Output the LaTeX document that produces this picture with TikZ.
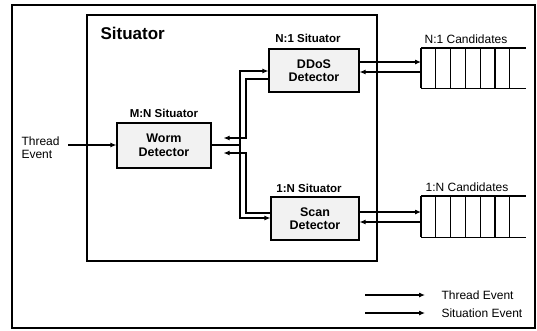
\documentclass[tikz,border=0pt]{standalone}
\usepackage{fontspec}
\setmainfont{Liberation Sans}
\usetikzlibrary{arrows.meta,calc}
\begin{document}
\begin{tikzpicture}[x=1pt,y=-1pt,
  line width=1.1pt,
  det/.style={draw,fill=black!5,minimum width=94pt,minimum height=44pt,align=center,font=\bfseries\fontsize{12.5}{13.5}\selectfont,inner sep=0pt},
  lab/.style={font=\bfseries\fontsize{11.5}{12}\selectfont,inner sep=0pt},
  txt/.style={font=\fontsize{12}{13.5}\selectfont,inner sep=0pt},
  arr/.style={-{Latex[length=6pt,width=5pt]},line width=1.1pt},
  qbox/.style={minimum width=104pt,minimum height=39pt,inner sep=0pt,anchor=north west}]
\useasboundingbox (0,0) rectangle (537,330);
\draw (12,5) rectangle (535,328);
\draw (87,15) rectangle (377,261);
\node[anchor=west,inner sep=0pt,font=\bfseries\fontsize{17}{18}\selectfont] (sit) at (100,33) {Situator};
% detectors
\node[det,minimum width=94pt,minimum height=45pt] (worm) at (164,145.5) {Worm\\Detector};
\node[det,minimum width=90pt,minimum height=43pt] (ddos) at (314,70.5) {DDoS\\Detector};
\node[det,minimum width=88pt,minimum height=43pt] (scan) at (315,218.5) {Scan\\Detector};
\node[lab] (wl) at (164,113) {M:N Situator};
\node[lab] (dl) at (308,38) {N:1 Situator};
\node[lab] (sl) at (309,188) {1:N Situator};
% queues
\node[qbox] (q1) at (421,48) {};
\node[qbox,minimum height=40pt] (q2) at (421,196) {};
\foreach \q in {q1,q2}{
  \draw (\q.north west) -- (\q.north east);
  \draw (\q.south west) -- (\q.south east);
  \foreach \i in {0,1,2,3,4,5,6}{
    \draw ($(\q.north west)+(\i*14.8,0)$) -- ($(\q.south west)+(\i*14.8,0)$);
  }
}
\node[txt] (q1l) at (466,39) {N:1 Candidates};
\node[txt] (q2l) at (467,187) {1:N Candidates};
% input
\node[txt,anchor=west,align=left] (te) at (21,147.5) {Thread\\Event};
\draw[arr] (68,145) -- (worm.west |- 0,145);
% worm to detectors
\coordinate (split) at (240,145);
\draw (worm.east |- split) -- (split);
\draw[arr] (split) |- ($(ddos.west)+(0,0.5)$);
\draw[arr] (split) |- ($(scan.west)+(0,-0.5)$);
% feedback
\draw[arr] ($(ddos.west)+(0,8.5)$) -| (246,138) -- ($(worm.east)+(12,-7.5)$);
\draw[arr] ($(scan.west)+(0,-5.5)$) -| (246,153) -- ($(worm.east)+(12,7.5)$);
% detectors to queues
\draw[arr] ($(ddos.east)+(0,-8.5)$) -- ($(q1.west |- ddos.east)+(0,-8.5)$);
\draw[arr] ($(q1.west |- ddos.east)+(0,1.5)$) -- ($(ddos.east)+(0,1.5)$);
\draw[arr] ($(scan.east)+(0,-6.5)$) -- ($(q2.west |- scan.east)+(0,-6.5)$);
\draw[arr] ($(q2.west |- scan.east)+(0,3.5)$) -- ($(scan.east)+(0,3.5)$);
% legend
\coordinate (l1a) at (365,295);
\coordinate (l1b) at (425,295);
\coordinate (l2a) at (365,313);
\coordinate (l2b) at (425,313);
\draw[arr] (l1a) -- (l1b);
\draw[arr] (l2a) -- (l2b);
\node[txt,anchor=west] (lt1) at (441,295) {Thread Event};
\node[txt,anchor=west] (lt2) at (441,313) {Situation Event};
\end{tikzpicture}
\end{document}
